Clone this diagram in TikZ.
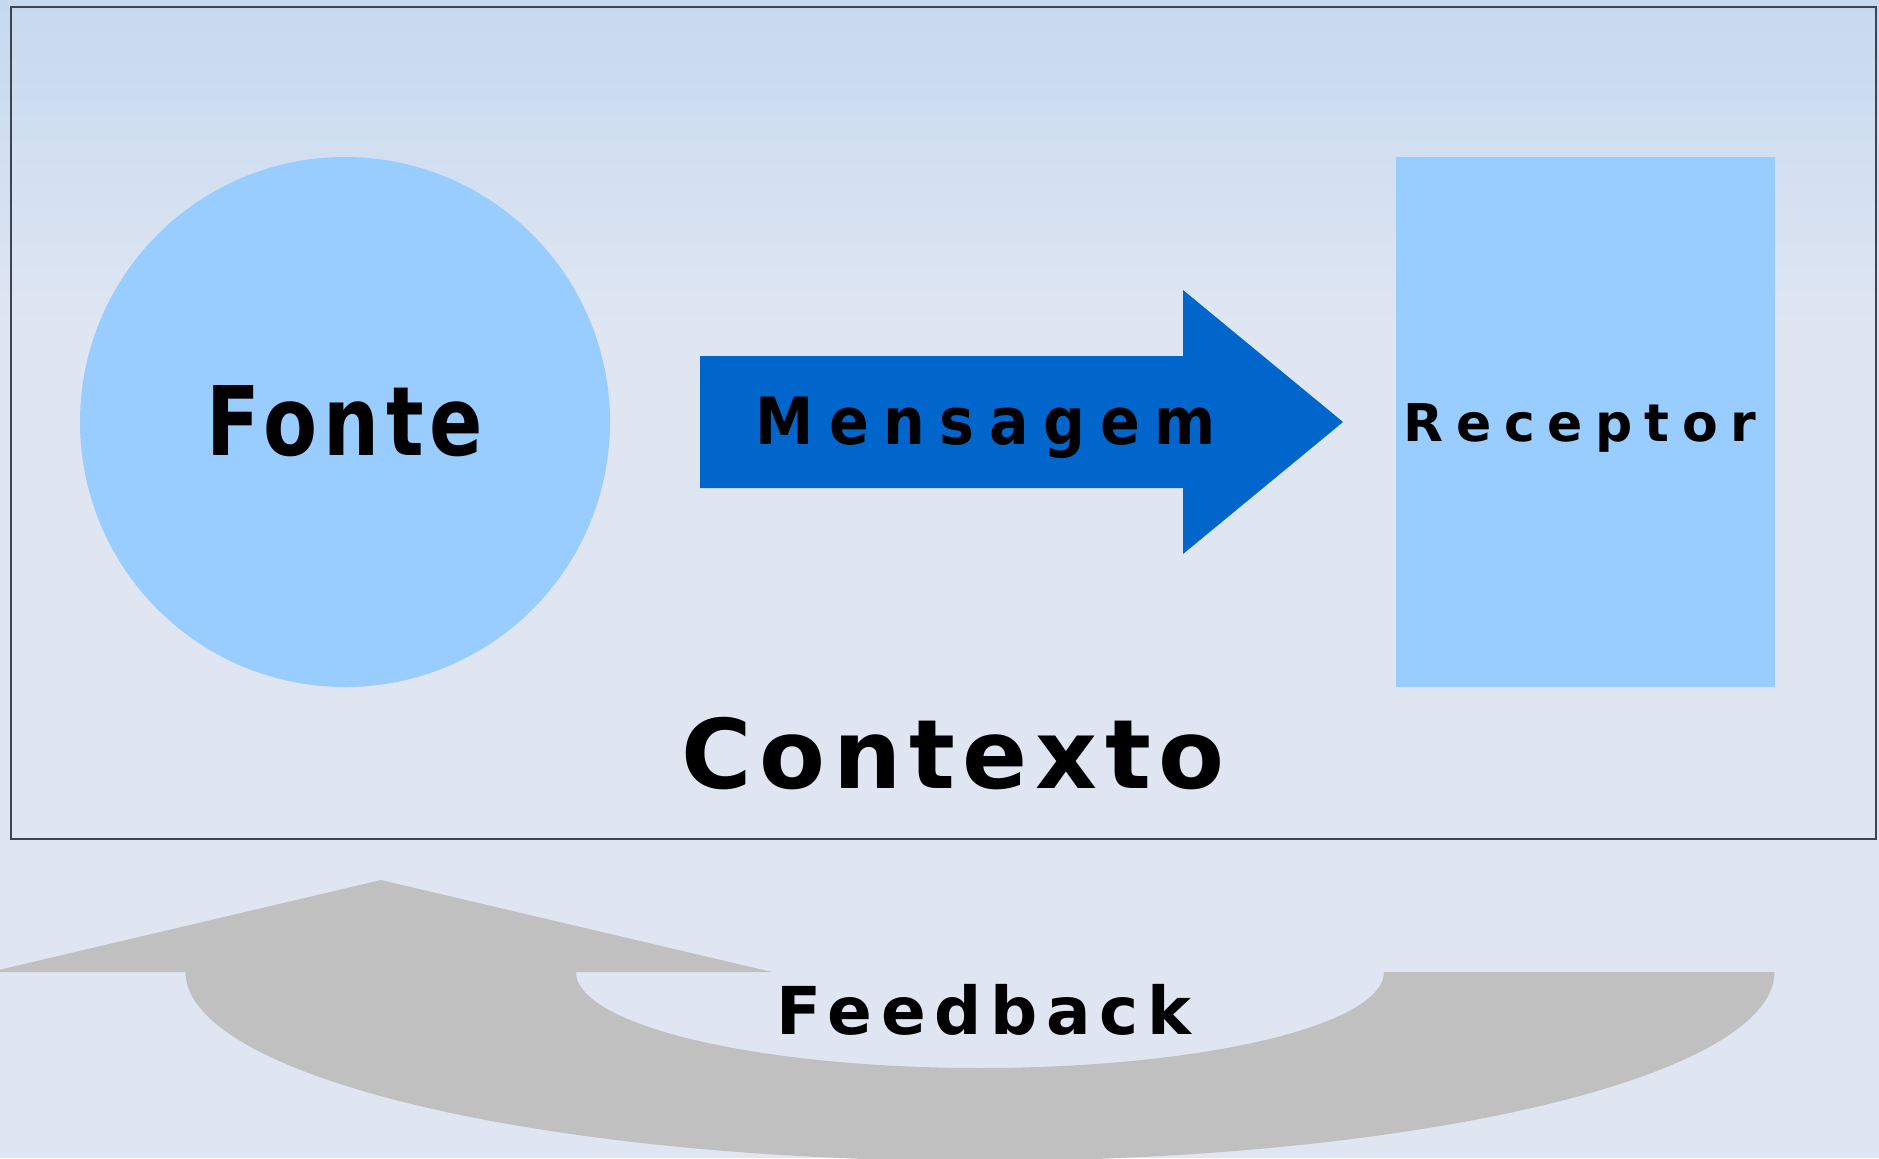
\documentclass[tikz,border=0pt]{standalone}
\usepackage{fontspec}
\setmainfont{DejaVu Sans}
\definecolor{bgtop}{HTML}{C6D9F0}
\definecolor{bgbot}{HTML}{DFE6F2}
\definecolor{lightblue}{HTML}{99CCFF}
\definecolor{msgblue}{HTML}{0066CC}
\definecolor{fbgray}{HTML}{C0C0C0}
\definecolor{framecol}{HTML}{3F4452}
\newcommand\lblfont[2]{\fontsize{#1}{#1}\selectfont\bfseries\addfontfeature{LetterSpace=#2}}
\newcommand\lblfontc[3]{\fontsize{#1}{#1}\selectfont\bfseries\addfontfeature{LetterSpace=#2,FakeStretch=#3}}
\tikzset{
  lbl/.style={anchor=base, inner sep=0pt, text=black},
  shapebox/.style={fill=lightblue, draw=none, inner sep=0pt},
}
\begin{document}
\begin{tikzpicture}[x=0.5pt,y=-0.5pt]
\useasboundingbox (0,0) rectangle (1879,1158);
\clip (0,0) rectangle (1879,1158);
% background
\shade[top color=bgtop, bottom color=bgbot] (0,0) rectangle (1879,330);
\fill[bgbot] (0,329) rectangle (1879,1158);
% context frame
\node[draw=framecol, line width=1pt, inner sep=0pt, minimum width=932.5pt, minimum height=416pt, anchor=north west] (contexto) at (10,6) {};
% source circle
\node[shapebox, circle, minimum size=265pt] (fonte) at (345,422) {};
% receptor rectangle
\node[shapebox, rectangle, minimum width=189.5pt, minimum height=265pt, anchor=north west] (receptor) at (1396,157) {};
% message arrow
\fill[msgblue] (700,356) -- (1183,356) -- (1183,290) -- (1343,422) -- (1183,554) -- (1183,488) -- (700,488) -- cycle;
% feedback arrow
\fill[fbgray] (381,880) -- (772,972) -- (576,972)
  -- plot[domain=0:180, samples=91] ({980-404*cos(\x)}, {972+96*sin(\x)})
  -- (1775,972)
  -- plot[domain=0:180, samples=121] ({980+794.5*cos(\x)}, {972+189*sin(\x)})
  -- (-10,972) -- cycle;
% labels
\node[lbl, font=\lblfontc{48}{6.5}{0.82}] (tfonte) at (345,455) {Fonte};
\node[lbl, font=\lblfontc{32.6}{22.5}{0.9}] (tmsg) at (986,444) {Mensagem};
\node[lbl, font=\lblfont{26}{24}] (trec) at (1580,441) {Receptor};
\node[lbl, font=\lblfont{48}{8}] (tctx) at (953,788) {Contexto};
\node[lbl, font=\lblfont{33}{13}] (tfb) at (984,1034) {Feedback};
\end{tikzpicture}
\end{document}
